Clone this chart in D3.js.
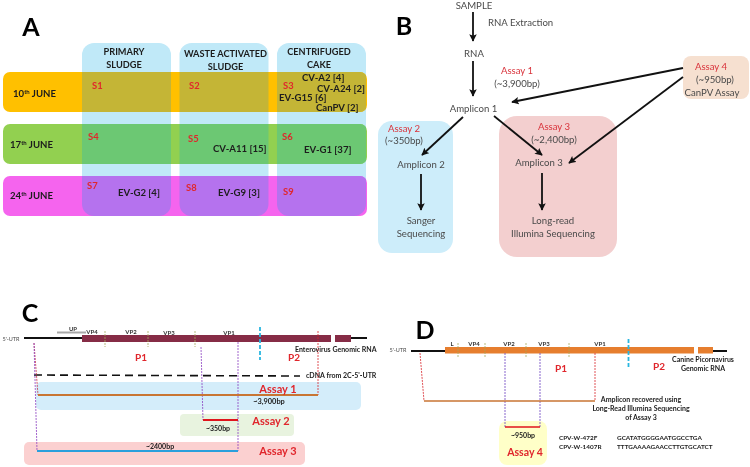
<!DOCTYPE html>
<html>
<head>
<meta charset="utf-8">
<script src="https://cdn.jsdelivr.net/npm/d3@7"></script>
<style>
  html, body { margin: 0; padding: 0; background: #fff; }
  svg { display: block; filter: blur(0.35px); }
  text { font-family: Lato, "Open Sans", sans-serif; }
</style>
</head>
<body>
<svg id="fig" width="750" height="467"></svg>
<script>
/////////////////////////////////// DATA ///////////////////////////////////
// panel A
var columns = ["PRIMARY SLUDGE", "WASTE ACTIVATED SLUDGE", "CENTRIFUGED CAKE"];
var columnLines = [["PRIMARY", "SLUDGE"], ["WASTE ACTIVATED", "SLUDGE"], ["CENTRIFUGED", "CAKE"]];
var dates = ["10", "17", "24"];
var samples = ["S1", "S2", "S3", "S4", "S5", "S6", "S7", "S8", "S9"];
var viruses = ["CV-A2 [4]", "CV-A24 [2]", "EV-G15 [6]", "CanPV [2]", "CV-A11 [15]", "EV-G1 [37]", "EV-G2 [4]", "EV-G9 [3]"];

// panels C and D : schematic genome coordinates
var cBars = [[812, 4298], [4354, 4578]];
var cBackbone = [[0, 812], [4578, 4802]];
var cTicks = [1134, 1736, 2394];
var cUp = [462, 868];
var cCut = 3304;
var cDna = [140, 3864];
var cAssay1 = [196, 4116];
var cAssay2 = [2506, 2996];
var cAssay3 = [182, 2996];
var cGenes = ["UP", "VP4", "VP2", "VP3", "VP1"];

var dBars = [[476, 3962], [4018, 4228]];
var dBackbone = [[0, 476], [4228, 4424]];
var dTicks = [658, 1036, 1610, 2212];
var dCut = 3045;
var dAmplicon = [182, 2576];
var dAssay4 = [1316, 1806];
var dGenes = ["L", "VP4", "VP2", "VP3", "VP1"];

var primers = ["CPV-W-472F", "CPV-W-1407R"];
var primerSeqs = ["GCATATGGGGAATGGCCTGA", "TTTGAAAAGAACCTTGTGCATCT"];

/////////////////////////////////// LAYOUT ///////////////////////////////////
var svg = d3.select("#fig");
var red = "#e0262c", grey = "#4a4a4a", ink = "#1c1c1c";

var defs = svg.append("defs");
defs.append("marker")
  .attr("id", "head")
  .attr("viewBox", "0 0 10 10")
  .attr("refX", 9).attr("refY", 5)
  .attr("markerWidth", 7.5).attr("markerHeight", 7.5)
  .attr("markerUnits", "userSpaceOnUse")
  .attr("orient", "auto")
  .append("path")
  .attr("d", "M0,0L10,5L0,10L2,5Z")
  .attr("fill", "#111");

function label(txt, x, y, size, opts) {
  opts = opts || {};
  return svg.append("text")
    .attr("x", x).attr("y", y)
    .attr("font-size", size)
    .attr("font-weight", opts.weight || "normal")
    .attr("font-family", opts.family || null)
    .attr("text-anchor", opts.anchor || "middle")
    .attr("fill", opts.fill || ink)
    .text(txt);
}

function box(x, y, w, h, r, fill) {
  svg.append("rect")
    .attr("x", x).attr("y", y).attr("width", w).attr("height", h)
    .attr("rx", r).attr("ry", r)
    .attr("fill", fill);
}

function line(x1, y1, x2, y2, color, width, dash) {
  return svg.append("line")
    .attr("x1", x1).attr("y1", y1).attr("x2", x2).attr("y2", y2)
    .attr("stroke", color)
    .attr("stroke-width", width)
    .attr("stroke-dasharray", dash || null);
}

var panelFont = { weight: "bold", family: "'Liberation Sans', sans-serif", fill: "#000" };
label("A", 31, 36, 25, panelFont);
label("B", 404, 35, 25, panelFont);
label("C", 30, 322, 25, panelFont);
label("D", 425, 339, 25, panelFont);

/////////////////////////////////// PANEL A ///////////////////////////////////
var xCol = d3.scaleBand().domain(columns).range([82, 366]).paddingInner(0.087);
var yRow = d3.scaleBand().domain(dates).range([72, 216]).paddingInner(0.23);
var rowFill = { "10": "#ffc000", "17": "#92d050", "24": "#f564ee" };
var overlapFill = { "10": "#c4b536", "17": "#6cc873", "24": "#b572ee" };

svg.append("g").selectAll("rect").data(columns).join("rect")
  .attr("x", function(d) { return xCol(d); })
  .attr("y", 43)
  .attr("width", xCol.bandwidth())
  .attr("height", 216 - 43)
  .attr("rx", 12)
  .attr("fill", "#c0e9f8");

svg.append("g").selectAll("rect").data(dates).join("rect")
  .attr("x", 3)
  .attr("y", function(d) { return yRow(d); })
  .attr("width", 364)
  .attr("height", yRow.bandwidth())
  .attr("rx", 7)
  .attr("fill", function(d) { return rowFill[d]; });

// les zones de recouvrement colonne / ligne
dates.forEach(function(d) {
  defs.append("clipPath").attr("id", "clip" + d)
    .append("rect")
    .attr("x", 3).attr("y", yRow(d))
    .attr("width", 364).attr("height", yRow.bandwidth())
    .attr("rx", 7);
  svg.append("g").attr("clip-path", "url(#clip" + d + ")")
    .selectAll("rect").data(columns).join("rect")
    .attr("x", function(c) { return xCol(c); })
    .attr("y", 43)
    .attr("width", xCol.bandwidth())
    .attr("height", 216 - 43)
    .attr("rx", 12)
    .attr("fill", overlapFill[d]);
});

var headerX = [124, 225.5, 319];
var headerY = [[55, 68], [57, 70], [55, 68]];
columnLines.forEach(function(lines, i) {
  lines.forEach(function(t, j) {
    label(t, headerX[i], headerY[i][j], 9.2, { weight: "bold" });
  });
});

var dateX = [13, 10, 10];
var dateY = [97, 148, 199];
dates.forEach(function(d, i) {
  var t = label("", dateX[i], dateY[i], 9.6, { weight: "bold", anchor: "start" });
  t.append("tspan").text(d);
  t.append("tspan").attr("dy", -3).attr("font-size", 6).text("th");
  t.append("tspan").attr("dy", 3).text(" JUNE");
});

var sampleX = [92, 189, 283, 88, 188, 282, 87, 186, 283];
var sampleY = [89, 89, 89, 140, 142, 140, 189, 191, 195];
samples.forEach(function(s, i) {
  label(s, sampleX[i], sampleY[i], 9.4, { weight: "bold", anchor: "start", fill: red });
});

var virusX = [302, 317, 279, 316, 213, 304, 118, 218];
var virusY = [81, 92, 101, 111, 152, 153, 196, 196];
viruses.forEach(function(v, i) {
  label(v, virusX[i], virusY[i], 9.6, { weight: "bold", anchor: "start", fill: "#1d1d1d" });
});

/////////////////////////////////// PANEL B ///////////////////////////////////
box(378, 121, 75, 132, 14, "#cdedfa");
box(499, 116, 118, 141, 18, "#f3cfcf");
box(683, 56, 66, 43, 8, "#f6e0d0");

var arrows = [
  [473, 12, 473, 41], [473, 61, 473, 96], [463, 117, 422, 155], [494, 116, 542, 155],
  [421, 174, 421, 210], [542, 173, 542, 210], [683, 68, 512, 102], [683, 77, 569, 163]
];
arrows.forEach(function(a) {
  line(a[0], a[1], a[2], a[3], "#111", 1.8).attr("marker-end", "url(#head)");
});

var flowText = [
  ["SAMPLE", 474, 9], ["RNA", 474, 57], ["(~3,900bp)", 517, 87], ["Amplicon 1", 473.5, 112],
  ["(~350bp)", 404, 144], ["Amplicon 2", 421, 168], ["Sanger", 421, 224], ["Sequencing", 421, 237],
  ["(~2,400bp)", 554, 143], ["Amplicon 3", 539, 166], ["Long-read", 553, 224],
  ["Illumina Sequencing", 553, 237], ["(~950bp)", 715, 83], ["CanPV Assay", 712, 96]
];
flowText.forEach(function(t) { label(t[0], t[1], t[2], 9.6, { fill: grey }); });
label("RNA Extraction", 488, 26, 9.6, { fill: grey, anchor: "start" });

var assayText = [["Assay 1", 517, 74], ["Assay 2", 404, 132], ["Assay 3", 554, 130], ["Assay 4", 711, 70]];
assayText.forEach(function(t) { label(t[0], t[1], t[2], 9.6, { fill: "#d9343c" }); });

/////////////////////////////////// PANEL C ///////////////////////////////////
var xC = d3.scaleLinear().domain([0, 4802]).range([24, 367]);
var small = { weight: "bold" };

box(36, 382, 325, 28, 5, "#d4edfa");
box(180, 414, 114, 22, 4, "#e8f3df");
box(24, 442, 281, 23, 5, "#fbd0d0");

cBackbone.forEach(function(d) { line(xC(d[0]), 338, xC(d[1]), 338, "#111", 2); });
svg.append("g").selectAll("rect").data(cBars).join("rect")
  .attr("x", function(d) { return xC(d[0]); })
  .attr("y", 335)
  .attr("width", function(d) { return xC(d[1]) - xC(d[0]); })
  .attr("height", 7)
  .attr("fill", "#862c46");
line(xC(cUp[0]), 332.5, xC(cUp[1]), 332.5, "#a8a8a8", 2);
cTicks.forEach(function(d) { line(xC(d), 331, xC(d), 347, "#a5a85c", 0.8, "2,1"); });
line(xC(cCut), 327, xC(cCut), 360, "#29b6e0", 1.8, "4,2");

label("5'-UTR", 11, 341, 5.5, { fill: grey });
var cGeneX = [73, 92, 131, 169, 229];
var cGeneY = [331, 334, 334, 335, 335];
cGenes.forEach(function(g, i) { label(g, cGeneX[i], cGeneY[i], 6, { weight: "bold", fill: "#333" }); });
label("P1", 141, 361, 10, { weight: "bold", fill: red });
label("P2", 294, 361, 10, { weight: "bold", fill: red });
label("Enterovirus Genomic RNA", 295, 352, 7, { weight: "bold", anchor: "start", fill: "#222" });

line(xC(cDna[0]), 375, xC(cDna[1]), 376, "#111", 1.6, "8,5");
label("cDNA from 2C-5'-UTR", 306, 378, 7, { weight: "bold", anchor: "start", fill: "#222" });

// pointillés entre le génome et les amplicons
line(34, 343, xC(cAssay1[0]), 395, "#c8344a", 0.8, "2,1");
line(xC(cAssay1[1]), 331, xC(cAssay1[1]), 395, "#d8262c", 0.8, "2,1");
line(201, 347, xC(cAssay2[0]), 420, "#8a3fc0", 0.8, "2,1");
line(xC(cAssay2[1]), 342, xC(cAssay2[1]), 451, "#8a3fc0", 0.8, "2,1");
line(34, 343, xC(cAssay3[0]), 451, "#8a3fc0", 0.8, "2,1");

line(xC(cAssay1[0]), 395, xC(cAssay1[1]), 395, "#c87533", 1.8);
line(xC(cAssay2[0]), 420, xC(cAssay2[1]), 420, "#e0141c", 2);
line(xC(cAssay3[0]), 451, xC(cAssay3[1]), 451, "#2a9fdc", 2);

label("Assay 1", 278, 393, 11, { weight: "bold", fill: red });
label("Assay 2", 271, 425, 11, { weight: "bold", fill: red });
label("Assay 3", 278, 455, 11, { weight: "bold", fill: red });
label("~3,900bp", 269, 404, 7.4, small);
label("~350bp", 218, 431, 7, small);
label("~2400bp", 160, 449, 7, small);

/////////////////////////////////// PANEL D ///////////////////////////////////
var xD = d3.scaleLinear().domain([0, 4424]).range([411, 727]);

box(499, 421, 48, 44, 8, "#ffffc8");

dBackbone.forEach(function(d) { line(xD(d[0]), 351, xD(d[1]), 351, "#111", 2); });
svg.append("g").selectAll("rect").data(dBars).join("rect")
  .attr("x", function(d) { return xD(d[0]); })
  .attr("y", 347)
  .attr("width", function(d) { return xD(d[1]) - xD(d[0]); })
  .attr("height", 6.5)
  .attr("fill", "#e67e2e");
dTicks.forEach(function(d) { line(xD(d), 343, xD(d), 358, "#a5a85c", 0.8, "2,1"); });
line(xD(dCut), 339, xD(dCut), 369, "#29b6e0", 1.8, "4,2");

label("5'-UTR", 398, 352, 5.5, { fill: grey });
var dGeneX = [452, 474, 509, 544, 600];
dGenes.forEach(function(g, i) { label(g, dGeneX[i], 346, 6, { weight: "bold", fill: "#333" }); });
label("P1", 561, 372, 10, { weight: "bold", fill: red });
label("P2", 659, 370, 10, { weight: "bold", fill: red });
label("Canine Picornavirus", 703, 362, 7, small);
label("Genomic RNA", 703, 371, 7, small);

line(420, 353, xD(dAmplicon[0]), 401, "#d8262c", 0.8, "2,1");
line(xD(dAmplicon[1]), 353, xD(dAmplicon[1]), 401, "#d8262c", 0.8, "2,1");
line(xD(dAssay4[0]), 353, xD(dAssay4[0]), 427, "#6a3fc0", 0.8, "2,1");
line(xD(dAssay4[1]), 353, xD(dAssay4[1]), 427, "#6a3fc0", 0.8, "2,1");
line(xD(dAmplicon[0]), 401, xD(dAmplicon[1]), 401, "#c87533", 1.4);
line(xD(dAssay4[0]), 427, xD(dAssay4[1]), 427, "#e0141c", 1.6);

label("Amplicon recovered using", 641, 402, 7, small);
label("Long-Read Illumina Sequencing", 641, 411, 7, small);
label("of Assay 3", 641, 420, 7, small);
label("~950bp", 523, 438, 7, small);
label("Assay 4", 525, 456, 10.5, { weight: "bold", fill: red });

primers.forEach(function(p, i) {
  label(p, 559, 440 + i * 9, 6.4, { weight: "bold", anchor: "start" });
  label(primerSeqs[i], 617, 440 + i * 9, 6.4, { weight: "bold", anchor: "start" });
});
</script>
</body>
</html>
